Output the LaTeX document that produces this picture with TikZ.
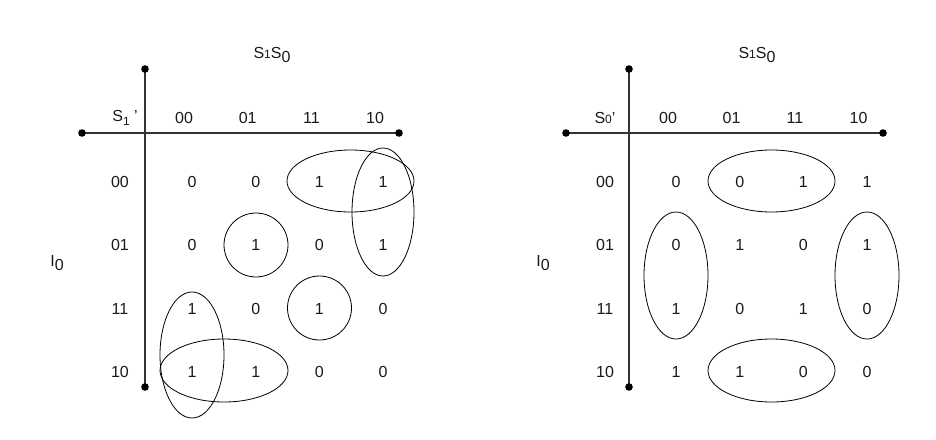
\documentclass[tikz,border=0pt]{standalone}
\usepackage{fontspec}
\setmainfont{Liberation Sans}
\begin{document}
\begin{tikzpicture}[x=1pt,y=-1pt,
  lbl/.style={inner sep=0pt,text=black!90,font=\fontsize{16}{18}\selectfont},
  axis/.style={draw=black!80,line width=1.4pt},
  dot/.style={fill=black},
  loop/.style={draw=black,line width=0.8pt}]
\useasboundingbox (0,0) rectangle (936,439);
% ---------- left map ----------
\coordinate (LT) at (145,69);
\coordinate (LB) at (145,387);
\coordinate (LL) at (82,133);
\coordinate (LR) at (399,133);
\draw[axis] (LT) -- (LB);
\draw[axis] (LL) -- (LR);
\foreach \p in {LT,LB,LL,LR} \fill[dot] (\p) circle (3.8);
\node[lbl] (LS) at (272,55) {S{\fontsize{12}{13}\selectfont 1}S\raisebox{-0.4ex}{0}};
\node[lbl] (LSp) at (125,118) {S\raisebox{-0.4ex}{\fontsize{12}{13}\selectfont 1} '};
\node[lbl] (LI) at (57,263) {I\raisebox{-0.4ex}{0}};
\foreach \t [count=\i] in {00,01,11,10} {
  \node[lbl] (LH\i) at ({184+63.7*(\i-1)},118) {\t};
  \node[lbl] (LRw\i) at (120,{182+63.3*(\i-1)}) {\t};
}
\foreach \r/\vals in {1/{0,0,1,1},2/{0,1,0,1},3/{1,0,1,0},4/{1,1,0,0}} {
  \foreach \v [count=\c] in \vals {
    \node[lbl] (L\r\c) at ({192+63.7*(\c-1)},{182+63.3*(\r-1)}) {\v};
  }
}
\draw[loop] (350.5,181) ellipse (63.5 and 31);
\draw[loop] (383,212) ellipse (31 and 64);
\draw[loop] (256,245) circle (32);
\draw[loop] (319.5,308) circle (32);
\draw[loop] (192,355) ellipse (32 and 63);
\draw[loop] (224,370.5) ellipse (64 and 31.5);
% ---------- right map ----------
\coordinate (RT) at (629,69);
\coordinate (RB) at (629,387);
\coordinate (RL) at (566,133);
\coordinate (RR) at (883,133);
\draw[axis] (RT) -- (RB);
\draw[axis] (RL) -- (RR);
\foreach \p in {RT,RB,RL,RR} \fill[dot] (\p) circle (3.8);
\node[lbl] (RS) at (757,55) {S{\fontsize{12}{13}\selectfont 1}S\raisebox{-0.4ex}{0}};
\node[lbl] (RSp) at (605,118) {S{\fontsize{12}{13}\selectfont 0}'};
\node[lbl] (RI) at (543,263) {I\raisebox{-0.4ex}{0}};
\foreach \t [count=\i] in {00,01,11,10} {
  \node[lbl] (RH\i) at ({668+63.5*(\i-1)},118) {\t};
  \node[lbl] (RRw\i) at (605,{182+63.3*(\i-1)}) {\t};
}
\foreach \r/\vals in {1/{0,0,1,1},2/{0,1,0,1},3/{1,0,1,0},4/{1,1,0,0}} {
  \foreach \v [count=\c] in \vals {
    \node[lbl] (R\r\c) at ({676+63.7*(\c-1)},{182+63.3*(\r-1)}) {\v};
  }
}
\draw[loop] (771.5,181) ellipse (63.5 and 31);
\draw[loop] (771.5,370.5) ellipse (63.5 and 31.5);
\draw[loop] (676,275.5) ellipse (32 and 63.5);
\draw[loop] (867,275.5) ellipse (32 and 63.5);
\end{tikzpicture}
\end{document}
